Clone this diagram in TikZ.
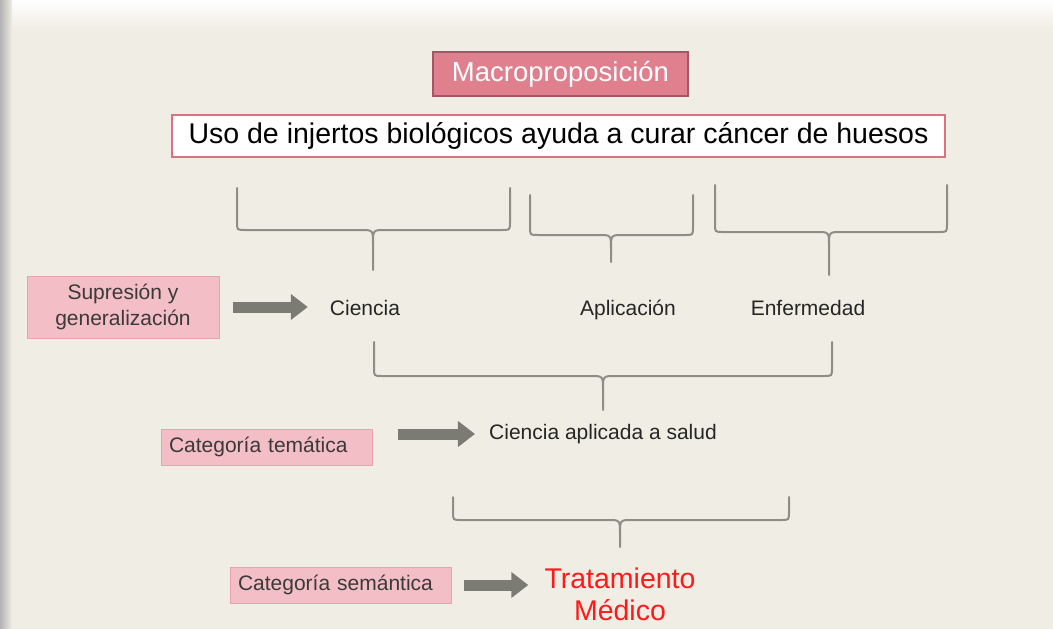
\documentclass[tikz,border=0pt]{standalone}
\usepackage{fontspec}
\setmainfont{Liberation Sans}
\usetikzlibrary{arrows.meta}
\definecolor{slidebg}{HTML}{F0EDE4}
\definecolor{macrofill}{HTML}{E0808F}
\definecolor{macroline}{HTML}{A65566}
\definecolor{usoline}{HTML}{D9737F}
\definecolor{tagfill}{HTML}{F3BEC5}
\definecolor{tagline}{HTML}{E9A3AC}
\definecolor{tagtext}{HTML}{3A3A3A}
\definecolor{bracegray}{HTML}{8E8E86}
\definecolor{arrowgray}{HTML}{7B7B74}
\definecolor{redtext}{HTML}{FF1A1A}
\tikzset{
  macrobox/.style={
    rectangle,
    minimum width=255pt,
    minimum height=44pt,
    draw=macroline,
    line width=2pt,
    fill=macrofill,
    text=white,
    font=\fontsize{27.5}{30}\selectfont
    },
  usobox/.style={
    rectangle,
    minimum width=773pt,
    minimum height=42pt,
    draw=usoline,
    line width=2pt,
    fill=white,
    text=black,
    font=\fontsize{28.5}{32}\selectfont
    },
  tagbox/.style={
    rectangle,
    draw=tagline,
    line width=1pt,
    fill=tagfill,
    text=tagtext,
    font=\fontsize{21}{26}\selectfont
    },
  label/.style={
    inner sep=0pt,
    text=black!85,
    font=\fontsize{21}{24}\selectfont
    },
  capbrace/.style={draw=bracegray, line width=2pt, line cap=round},
  bigarrow/.style={
    draw=arrowgray,
    line width=11pt,
    -{Triangle[length=17pt,width=25pt]}
    },
}
% brace: left x, right x, top y, bar y, tip x, bottom y
\newcommand{\capbr}[6]{%
  \draw[capbrace] (#1,#3) -- (#1,#4-8) .. controls (#1,#4) .. (#1+8,#4)
    -- (#5-12,#4) .. controls (#5,#4) .. (#5,#4+14) -- (#5,#6);
  \draw[capbrace] (#2,#3) -- (#2,#4-8) .. controls (#2,#4) .. (#2-8,#4)
    -- (#5+12,#4) .. controls (#5,#4) .. (#5,#4+14);
}

\begin{document}
\begin{tikzpicture}[x=1pt,y=-1pt]
\useasboundingbox (0,0) rectangle (1053,629);
% slide background
\fill[slidebg] (0,0) rectangle (1053,629);
\shade[top color=white, bottom color=slidebg] (0,0) rectangle (1053,28);
\shade[left color=black!30, right color=slidebg] (0,0) rectangle (12,629);

% title and statement
\node (macro) [macrobox] at (560.5,74) {Macroproposición};
\node (uso) [usobox] at (558.5,136) {Uso de injertos biológicos ayuda a curar cáncer de huesos};

% first level braces
\capbr{237}{510}{188}{230}{373}{270}
\capbr{530}{693}{195}{235}{611}{262}
\capbr{715}{947}{185}{232}{829}{275}

\node (cien) [label] at (365,308) {Ciencia};
\node (apli) [label] at (628,310) {Aplicación};
\node (enf) [label] at (808,308) {Enfermedad};

% second level
\capbr{374}{832}{342}{376}{603}{410}
\node (cas) [label] at (603,434) {Ciencia aplicada a salud};

% third level
\capbr{453}{789}{497}{520}{620}{547}
\node (trat) [label, align=center, text=redtext, font=\fontsize{28.5}{32}\selectfont] at (620,594) {Tratamiento\\Médico};

% left tags
\node (supr) [tagbox, align=center, minimum width=192pt, minimum height=62pt] at (123,307) {Supresión y\\generalización};
\node (tem) [tagbox, align=left, inner xsep=8pt, text width=195pt, minimum height=36pt] at (266.5,447) {Categoría temática};
\node (sem) [tagbox, align=left, inner xsep=8pt, text width=205pt, minimum height=36pt] at (340.5,585) {Categoría semántica};

\draw[bigarrow, shorten <=13pt, shorten >=22pt] (supr.east) -- (supr.east -| cien.west);
\draw[bigarrow, shorten <=25pt, shorten >=14pt] (tem.east |- cas.west) -- (cas.west);
\draw[bigarrow, shorten <=12pt, shorten >=16pt] (sem.east) -- (sem.east -| trat.west);
\end{tikzpicture}
\end{document}
